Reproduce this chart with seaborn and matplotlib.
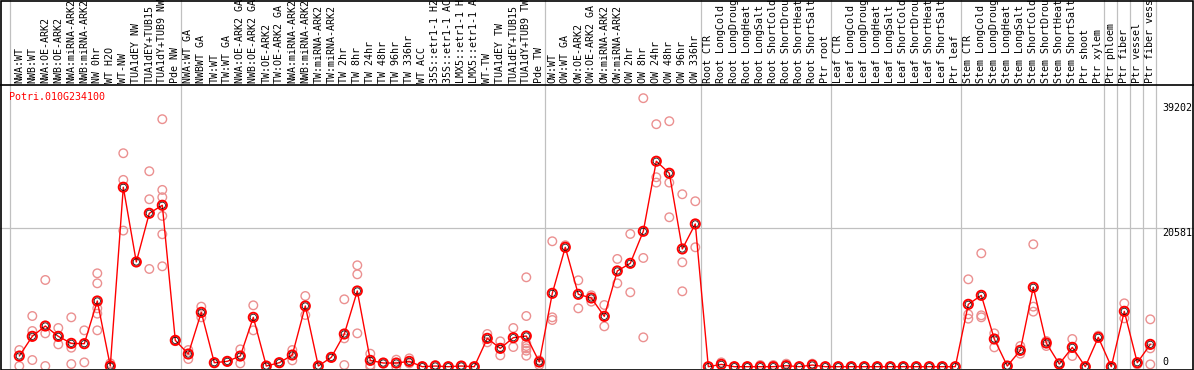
import numpy as np
import pandas as pd
import seaborn as sns
import matplotlib.pyplot as plt
from matplotlib.patches import Rectangle

gene = "Potri.010G234100"

labels = [
    "NWA:WT", "NWB:WT", "NWA:OE-ARK2", "NWB:OE-ARK2", "NWA:miRNA-ARK2", "NWB:miRNA-ARK2",
    "NW 0hr", "WT H2O", "WT-NW", "TUA1dEY NW", "TUA1dEY+TUB15", "TUA1dY+TUB9 NW", "Pde NW",
    "NWA:WT GA", "NWBWT GA", "TW:WT", "TW:WT GA", "NWA:OE-ARK2 GA", "NWB:OE-ARK2 GA",
    "TW:OE-ARK2", "TW:OE-ARK2 GA", "NWA:miRNA-ARK2", "NWB:miRNA-ARK2", "TW:miRNA-ARK2",
    "TW:miRNA-ARK2", "TW 2hr", "TW 8hr", "TW 24hr", "TW 48hr", "TW 96hr", "TW 336hr", "WT ACC",
    "35S::etr1-1 H2", "35S::etr1-1 AC", "LMX5::etr1-1 H", "LMX5::etr1-1 A", "WT-TW",
    "TUA1dEY TW", "TUA1dEY+TUB15", "TUA1dY+TUB9 TW", "Pde TW",
    "OW:WT", "OW:WT GA", "OW:OE-ARK2", "OW:OE-ARK2 GA", "OW:miRNA-ARK2", "OW:miRNA-ARK2",
    "OW 2hr", "OW 8hr", "OW 24hr", "OW 48hr", "OW 96hr", "OW 336hr",
    "Root CTR", "Root LongCold", "Root LongDroug", "Root LongHeat", "Root LongSalt",
    "Root ShortCold", "Root ShortDrou", "Root ShortHeat", "Root ShortSalt", "Ptr root",
    "Leaf CTR", "Leaf LongCold", "Leaf LongDroug", "Leaf LongHeat", "Leaf LongSalt",
    "Leaf ShortCold", "Leaf ShortDrou", "Leaf ShortHeat", "Leaf ShortSalt", "Ptr leaf",
    "Stem CTR", "Stem LongCold", "Stem LongDroug", "Stem LongHeat", "Stem LongSalt",
    "Stem ShortCold", "Stem ShortDrou", "Stem ShortHeat", "Stem ShortSalt", "Ptr shoot",
    "Ptr xylem", "Ptr phloem", "Ptr fiber", "Ptr vessel", "Ptr fiber vess",
]

means = [
    1587, 4514, 6051, 4514, 3472, 3422, 9771, 100, 26685, 15574, 22816, 24006, 3918,
    1885, 8085, 595, 794, 1587, 7341, 100, 595, 1736, 9027, 100, 1389, 4861, 11259,
    942, 546, 546, 794, 0, 100, 0, 100, 0, 4216, 2728, 4315, 4563, 694,
    10912, 17757, 10763, 10218, 7490, 14235, 15376, 20138, 30554, 28768, 17509, 21229,
    0, 347, 0, 0, 0, 0, 150, 0, 248, 0,
    0, 0, 0, 0, 0, 0, 0, 0, 0, 0,
    9275, 10614, 4117, 100, 2430, 11805, 3522, 397, 2877, 0, 4365,
    0, 8234, 595, 3323,
]

replicates = [
    [2480, 100], [7539, 5307, 992], [12896, 4960, 100], [5754, 3323], [7341, 2827, 397],
    [5406, 645], [13888, 12400, 8680, 7886, 5406], [500, 0], [31744, 27776, 20237],
    [15574], [29066, 24899, 14533], [36803, 26288, 25197, 22419, 19691, 14930], [3918, 3800],
    [2480, 1141], [8928, 7341], [595], [794], [2579, 496], [9126, 5406], [0], [595],
    [2480, 942], [10515, 7688], [0], [1389], [10019, 4216, 248], [15078, 13739, 4960],
    [1934, 248, 0], [546], [1042, 0], [1240, 496], [0], [250], [0], [100], [0],
    [4861, 3621], [3770, 1686], [5754, 2926], [13293, 7539, 3472, 3075, 2728, 2381, 1637],
    [942, 248],
    [18650, 7341, 6944], [18054], [12846, 8680], [10614, 9672], [9176, 6002],
    [16021, 12400], [19741, 11061], [39928, 16170, 4365], [36059, 28173, 27379],
    [36506, 27379, 22221], [25643, 15525, 11210], [24602, 17757],
    [0], [645], [0], [0], [248], [248], [450], [0], [450], [0],
    [0], [0], [0], [0], [0], [0], [0], [0], [0], [0],
    [12995, 7787, 7142], [16864, 7638, 7341], [4960, 2877], [100], [3075, 1934],
    [18203, 8928, 8184], [3819, 3075], [546], [4117, 1587], [0], [4613],
    [0], [9424, 7192], [347], [7043, 2728, 347],
]

# last column of each group (grey separators drawn just after)
group_ends = [12, 40, 52, 62, 72, 83, 84, 85, 86, 87]
ticks = [39202, 20581]

W, H = 1194, 370
HEAD = 85
fig = plt.figure(figsize=(W / 100, H / 100), dpi=100)
sns.set_style("white")
plt.rcParams["font.family"] = ["DejaVu Sans Mono"]


def px_to_i(px):
    return (px - 19.3) / 13.0


xlim = (px_to_i(0), px_to_i(W))
scale = 0.006725  # pixels per unit
ylim = ((366.7 - 369) / scale, (366.7 - HEAD) / scale)

ax = fig.add_axes([0, 1 / H, 1, (H - HEAD - 1) / H])
top = fig.add_axes([0, (H - HEAD) / H, 1, HEAD / H])

idx = np.arange(len(means))
rep_df = pd.DataFrame(
    [(i, v) for i, vals in enumerate(replicates) for v in vals], columns=["cond", "value"]
)
mean_df = pd.DataFrame({"cond": idx, "value": means})

ax.axhline(20581, color="#c0c0c0", lw=0.9, zorder=0)
for a in (ax, top):
    a.axvline(-0.7, color="#c0c0c0", lw=0.9, zorder=0)
    for g in group_ends:
        a.axvline(g + 0.4, color="#c0c0c0", lw=0.9, zorder=0)

sns.scatterplot(data=rep_df, x="cond", y="value", ax=ax, marker="o", s=38,
                facecolor="none", edgecolor="#eb9090", linewidth=1.0, zorder=2)
sns.lineplot(data=mean_df, x="cond", y="value", ax=ax, color="red", lw=1.0, zorder=3)
sns.scatterplot(data=mean_df, x="cond", y="value", ax=ax, marker="o", s=44,
                facecolor="none", edgecolor="red", linewidth=1.4, zorder=4)
sns.scatterplot(data=mean_df, x="cond", y="value", ax=ax, marker="o", s=20,
                facecolor="none", edgecolor="black", linewidth=0.5, zorder=5)

ax.set_xlim(xlim)
ax.set_ylim(ylim)
ax.set_xticks([])
ax.set_yticks([])
ax.set_xlabel("")
ax.set_ylabel("")
for s in ax.spines.values():
    s.set_visible(False)

ax.text(px_to_i(9), ylim[1] - 12 / scale, gene, color="red", fontsize=7.2,
        va="center", ha="left")
tx = px_to_i(1162)
for t in ticks:
    ax.text(tx, t, str(t), fontsize=7.2, va="top", ha="left", color="black")
ax.text(tx, 0, "0", fontsize=7.2, va="bottom", ha="left", color="black")

top.set_xlim(xlim)
top.set_ylim(0, HEAD)
top.axis("off")
for i, lab in enumerate(labels):
    top.text(i, 2, lab, rotation=90, ha="center", va="bottom", fontsize=7.2,
             color="black", clip_on=True)

# frame around the whole panel
fig.add_artist(Rectangle((0.5 / W, 0.5 / H), 1 - 1.5 / W, 1 - 1 / H,
                         transform=fig.transFigure, fill=False, ec="black", lw=1.2))
fig.add_artist(plt.Line2D([0, 1], [(H - HEAD) / H] * 2, transform=fig.transFigure,
                          color="black", lw=1.2))

fig.savefig("out.png", dpi=100)
